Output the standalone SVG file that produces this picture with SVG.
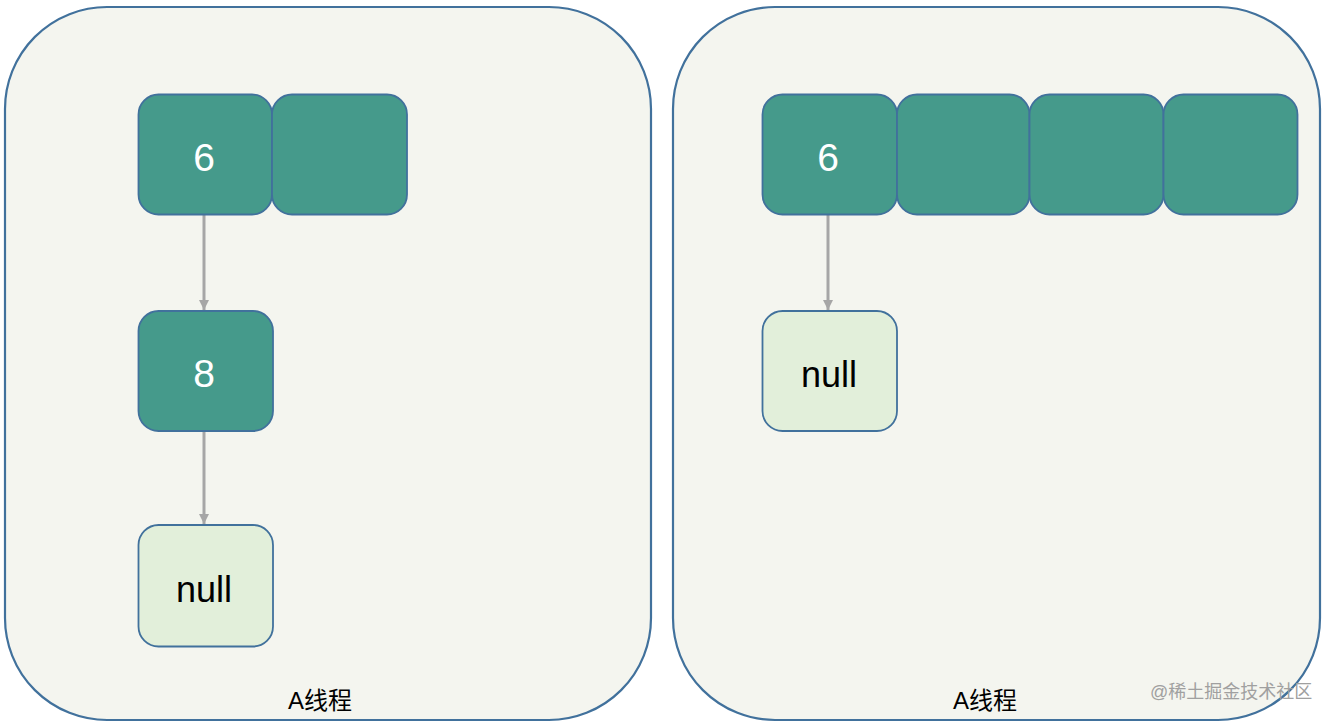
<svg xmlns="http://www.w3.org/2000/svg" width="1330" height="724" viewBox="0 0 1330 724">
<style>
.panel{fill:#F4F5EF;stroke:#41719C;stroke-width:2.2}
.cell{fill:#459A8B;stroke:#41719C;stroke-width:1.8}
.nul{fill:#E2EFDA;stroke:#41719C;stroke-width:1.8}
.num{font-family:"Liberation Sans",Arial,sans-serif;font-size:39px;fill:#FFFFFF;text-anchor:middle}
.ntxt{font-family:"Liberation Sans",Arial,sans-serif;font-size:36px;fill:#000000;text-anchor:middle}
.lbl{font-family:"Liberation Sans","Noto Sans CJK SC",sans-serif;font-size:24px;fill:#000000;text-anchor:middle}
.wm{font-family:"Liberation Sans","Noto Sans CJK SC",sans-serif;font-size:18px;fill:#A0A0A0}
.conn{stroke:#A6A6A6;stroke-width:3;fill:none}
</style>
<defs>
<marker id="arr" viewBox="0 0 10 10" refX="10" refY="5" markerWidth="3.5" markerHeight="3.5" markerUnits="strokeWidth" orient="auto">
<path d="M0,0 L10,5 L0,10 z" fill="#A6A6A6"/>
</marker>
</defs>
<rect width="1330" height="724" fill="#FFFFFF"/>
<g id="panel-left">
<rect class="panel" x="5" y="7" width="646" height="713" rx="102" ry="102"/>
<text class="lbl" x="320" y="709">A线程</text>
</g>
<g id="panel-right">
<rect class="panel" x="673" y="7" width="647" height="713" rx="102" ry="102"/>
<text class="lbl" x="985" y="709">A线程</text>
</g>
<g id="connectors">
<line class="conn" x1="204" y1="215" x2="204" y2="310" marker-end="url(#arr)"/>
<line class="conn" x1="204" y1="431" x2="204" y2="524" marker-end="url(#arr)"/>
<line class="conn" x1="828" y1="215" x2="828" y2="310" marker-end="url(#arr)"/>
</g>
<g id="left-cell-6">
<rect class="cell" x="138.5" y="94.5" width="133.5" height="120" rx="20" ry="20"/>
<text class="num" x="204" y="171">6</text>
</g>
<g id="left-cell-2">
<rect class="cell" x="272" y="94.5" width="135" height="120" rx="20" ry="20"/>
</g>
<g id="left-node-8">
<rect class="cell" x="138.5" y="311" width="134.5" height="120" rx="20" ry="20"/>
<text class="num" x="204" y="387">8</text>
</g>
<g id="left-null">
<rect class="nul" x="138.5" y="525" width="134.5" height="121.5" rx="20" ry="20"/>
<text class="ntxt" x="204" y="602">null</text>
</g>
<g id="right-cell-6">
<rect class="cell" x="762.5" y="94.5" width="134.5" height="120" rx="20" ry="20"/>
<text class="num" x="828" y="171">6</text>
</g>
<g id="right-cell-2">
<rect class="cell" x="897" y="94.5" width="132.5" height="120" rx="20" ry="20"/>
</g>
<g id="right-cell-3">
<rect class="cell" x="1029.5" y="94.5" width="134" height="120" rx="20" ry="20"/>
</g>
<g id="right-cell-4">
<rect class="cell" x="1163.5" y="94.5" width="134" height="120" rx="20" ry="20"/>
</g>
<g id="right-null">
<rect class="nul" x="762.5" y="311" width="134.5" height="120" rx="20" ry="20"/>
<text class="ntxt" x="829" y="387">null</text>
</g>
<text class="wm" x="1150" y="698">@稀土掘金技术社区</text>
</svg>
